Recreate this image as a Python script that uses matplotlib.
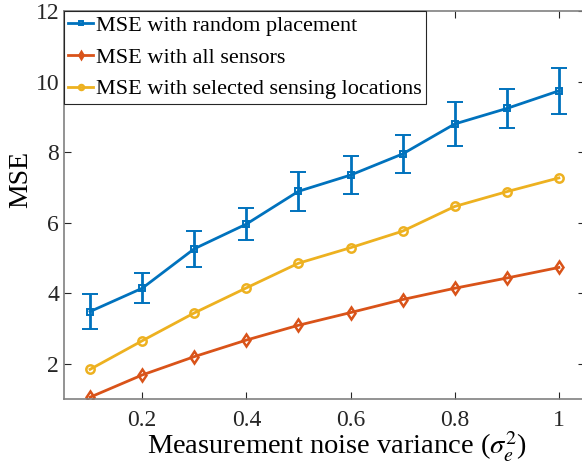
import matplotlib.pyplot as plt

# noise variance values and MSE results
noise_var = [0.1, 0.2, 0.3, 0.4, 0.5, 0.6, 0.7, 0.8, 0.9, 1.0]
mse_random = [3.48, 4.14, 5.26, 5.96, 6.89, 7.35, 7.95, 8.80, 9.24, 9.74]
err_random = [0.50, 0.42, 0.51, 0.45, 0.55, 0.53, 0.55, 0.62, 0.56, 0.65]
mse_all = [1.05, 1.68, 2.20, 2.67, 3.09, 3.45, 3.82, 4.14, 4.43, 4.73]
mse_selected = [1.84, 2.65, 3.44, 4.15, 4.85, 5.29, 5.76, 6.46, 6.88, 7.27]

x_ticks = [0.2, 0.4, 0.6, 0.8, 1.0]
x_tick_labels = ["0.2", "0.4", "0.6", "0.8", "1"]
y_ticks = [2, 4, 6, 8, 10, 12]

plt.rcParams["font.family"] = ["Liberation Serif", "DejaVu Serif"]
plt.rcParams["mathtext.fontset"] = "stix"

fig = plt.figure(figsize=(5.82, 4.65), dpi=100)
ax = fig.add_axes([0.110, 0.142, 0.895, 0.834])

blue, orange, yellow = "#0072BD", "#D95319", "#EDB120"

h1 = ax.errorbar(noise_var, mse_random, yerr=err_random, color=blue, lw=2,
                 marker="s", ms=5, mfc="none", mew=1.4, capsize=6,
                 capthick=2, elinewidth=2, label="MSE with random placement")
h2, = ax.plot(noise_var, mse_all, color=orange, lw=2, marker="d", ms=6,
              mfc="none", mew=1.8, label="MSE with all sensors")
h3, = ax.plot(noise_var, mse_selected, color=yellow, lw=2, marker="o", ms=6,
              mfc="none", mew=1.8, label="MSE with selected sensing locations")

ax.set_xlim(0.05, 1.05)
ax.set_ylim(1, 12)
ax.set_xticks(x_ticks)
ax.set_xticklabels(x_tick_labels)
ax.set_yticks(y_ticks)
ax.tick_params(direction="in", labelsize=17, colors="#262626", length=5,
               top=True, right=True, width=0.8)
ax.tick_params(axis="x", pad=8)
for s in ax.spines.values():
    s.set_color("#808080")
    s.set_linewidth(1.2)

ax.set_xlabel(r"Measurement noise variance ($\sigma_e^2$)", fontsize=20.5)
ax.xaxis.set_label_coords(0.524, -0.079)
ax.set_ylabel("MSE", fontsize=20)
ax.yaxis.set_label_coords(-0.06, 0.566)

# legend handles: plain line + marker for the errorbar series
leg = ax.legend([h1[0], h2, h3],
                ["MSE with random placement", "MSE with all sensors",
                 "MSE with selected sensing locations"],
                loc="upper left", fontsize=16, handlelength=1.1,
                handletextpad=0.15, borderpad=0.2, labelspacing=0.5,
                borderaxespad=0, fancybox=False, framealpha=1,
                edgecolor="#262626", markerscale=0.6)
leg.get_frame().set_linewidth(0.8)

fig.savefig("out.png", dpi=100)
